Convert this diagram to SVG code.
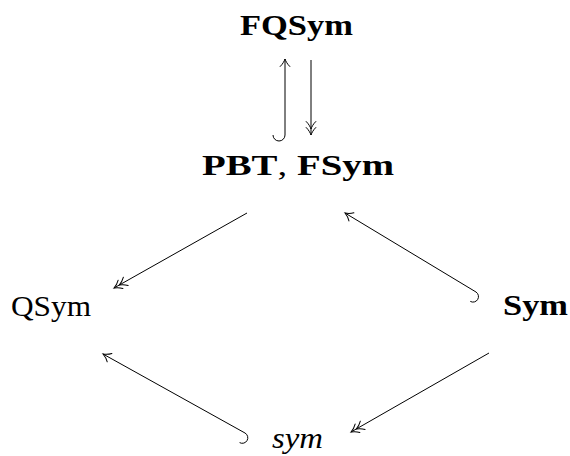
<svg xmlns="http://www.w3.org/2000/svg" width="570" height="456" viewBox="0 0 570 456">
<style>
text{font-size:30px;fill:#000}
.c line,.c path{stroke:#000;stroke-width:1;fill:none}
.h{stroke:#000;stroke-width:1;fill:none;stroke-linecap:round}
</style>
<defs>
<marker id="to" markerUnits="userSpaceOnUse" markerWidth="20" markerHeight="20" refX="0" refY="0" orient="auto" overflow="visible">
<path class="h" d="M-7.5,-4.8 C-5,-2.2 -2,-0.7 0,0 C-2,0.7 -5,2.2 -7.5,4.8"/>
</marker>
<marker id="too" markerUnits="userSpaceOnUse" markerWidth="20" markerHeight="20" refX="0" refY="0" orient="auto" overflow="visible">
<path class="h" d="M-7.5,-4.8 C-5,-2.2 -2,-0.7 0,0 C-2,0.7 -5,2.2 -7.5,4.8"/>
<path class="h" d="M-13.5,-4.8 C-11,-2.2 -8,-0.7 -6,0 C-8,0.7 -11,2.2 -13.5,4.8"/>
</marker>
</defs>
<g id="FQSym"><text font-family="Liberation Serif, serif" font-weight="bold" x="240" y="35" textLength="113" lengthAdjust="spacingAndGlyphs">FQSym</text></g>
<g id="PBT_FSym"><text font-family="Liberation Serif, serif" font-weight="bold" x="202" y="175" textLength="192" lengthAdjust="spacingAndGlyphs">PBT<tspan font-weight="normal">,</tspan> FSym</text></g>
<g id="QSym"><text font-family="Liberation Serif, serif" x="11" y="316" textLength="80" lengthAdjust="spacingAndGlyphs">QSym</text></g>
<g id="Sym"><text font-family="Liberation Serif, serif" font-weight="bold" x="503" y="315" textLength="65" lengthAdjust="spacingAndGlyphs">Sym</text></g>
<g id="sym"><text font-family="Liberation Serif, serif" font-style="italic" x="272" y="448" textLength="51" lengthAdjust="spacingAndGlyphs">sym</text></g>
<g id="connectors" class="c">
<path d="M273,135 A6,6 0 0 0 285,135 L285,59" marker-end="url(#to)"/>
<line x1="311" y1="60" x2="311" y2="135" marker-end="url(#too)"/>
<line x1="247" y1="213" x2="114" y2="288" marker-end="url(#too)"/>
<path d="M470.3,301.4 A5.5,5.5 0 0 0 476,292 L345,213" marker-end="url(#to)"/>
<path d="M239.6,442.6 A5.5,5.5 0 0 0 245,433 L103,354" marker-end="url(#to)"/>
<line x1="489" y1="353" x2="351" y2="432" marker-end="url(#too)"/>
</g>
</svg>
